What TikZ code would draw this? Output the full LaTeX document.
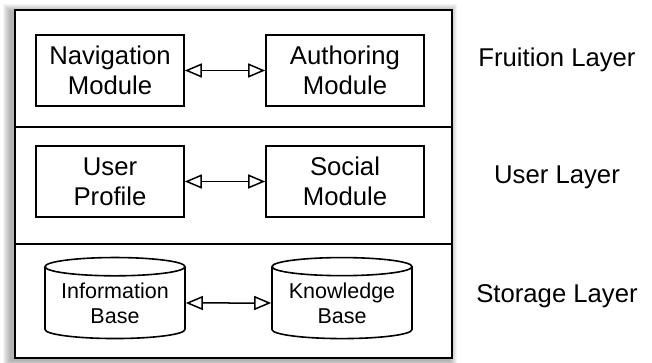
\documentclass[tikz,border=0pt]{standalone}
\usepackage{fontspec}
\setmainfont{Liberation Sans}
\usetikzlibrary{arrows.meta,positioning,shapes.geometric}

\newcommand\modfont{\fontsize{25.7}{30}\selectfont}
\newcommand\basefont{\fontsize{21.5}{25}\selectfont}

\begin{document}
\begin{tikzpicture}[
  x=1pt, y=-1pt,
  layer/.style={rectangle, draw, line width=2pt, minimum width=437pt, minimum height=117pt, inner sep=0pt},
  module/.style={rectangle, draw, line width=1.6pt, minimum height=71pt, align=center, font=\modfont, inner sep=2pt},
  store/.style={cylinder, draw, line width=1.6pt, shape border rotate=90, aspect=0.17, minimum width=140pt, minimum height=81pt, align=center, font=\basefont, inner sep=0pt},
  link/.style={{Triangle[open,length=17pt,width=14pt]}-{Triangle[open,length=17pt,width=14pt]}, line width=1.5pt},
  tag/.style={anchor=base, font=\modfont}
]
\useasboundingbox (0,0) rectangle (652,363);

% soft shadow round the stack of layers
\foreach \d in {1,...,8}
  \fill[black, opacity=0.045] (15-\d-4,10-\d+2) rectangle (452+\d-3,358+\d+2);

% layers
\node[layer, fill=white, minimum height=117pt] (fruition) at (233.5,68.5) {};
\node[layer, fill=white, minimum height=117pt] (user) at (233.5,185.5) {};
\node[layer, fill=white, minimum height=114pt] (storage) at (233.5,301) {};

% Fruition layer
\node[module, minimum width=148pt] (nav) at (110,70.5) {Navigation\\Module};
\node[module, minimum width=158pt] (auth) at (345,70.5) {Authoring\\Module};

% User layer
\node[module, minimum width=148pt] (profile) at (110,181.5) {User\\Profile};
\node[module, minimum width=158pt] (social) at (345,181.5) {Social\\Module};

% Storage layer
\node[store] (info) at (115,303) {Information\\Base};
\node[store] (know) at (342,303) {Knowledge\\Base};

% links
\draw[link] (nav) -- (auth);
\draw[link] (profile) -- (social);
\draw[link] (info) -- (know);

% layer names
\node[tag] (fruitionname) at (557,67) {Fruition Layer};
\node[tag] (username) at (557,184) {User Layer};
\node[tag] (storagename) at (557,302) {Storage Layer};

\end{tikzpicture}
\end{document}
